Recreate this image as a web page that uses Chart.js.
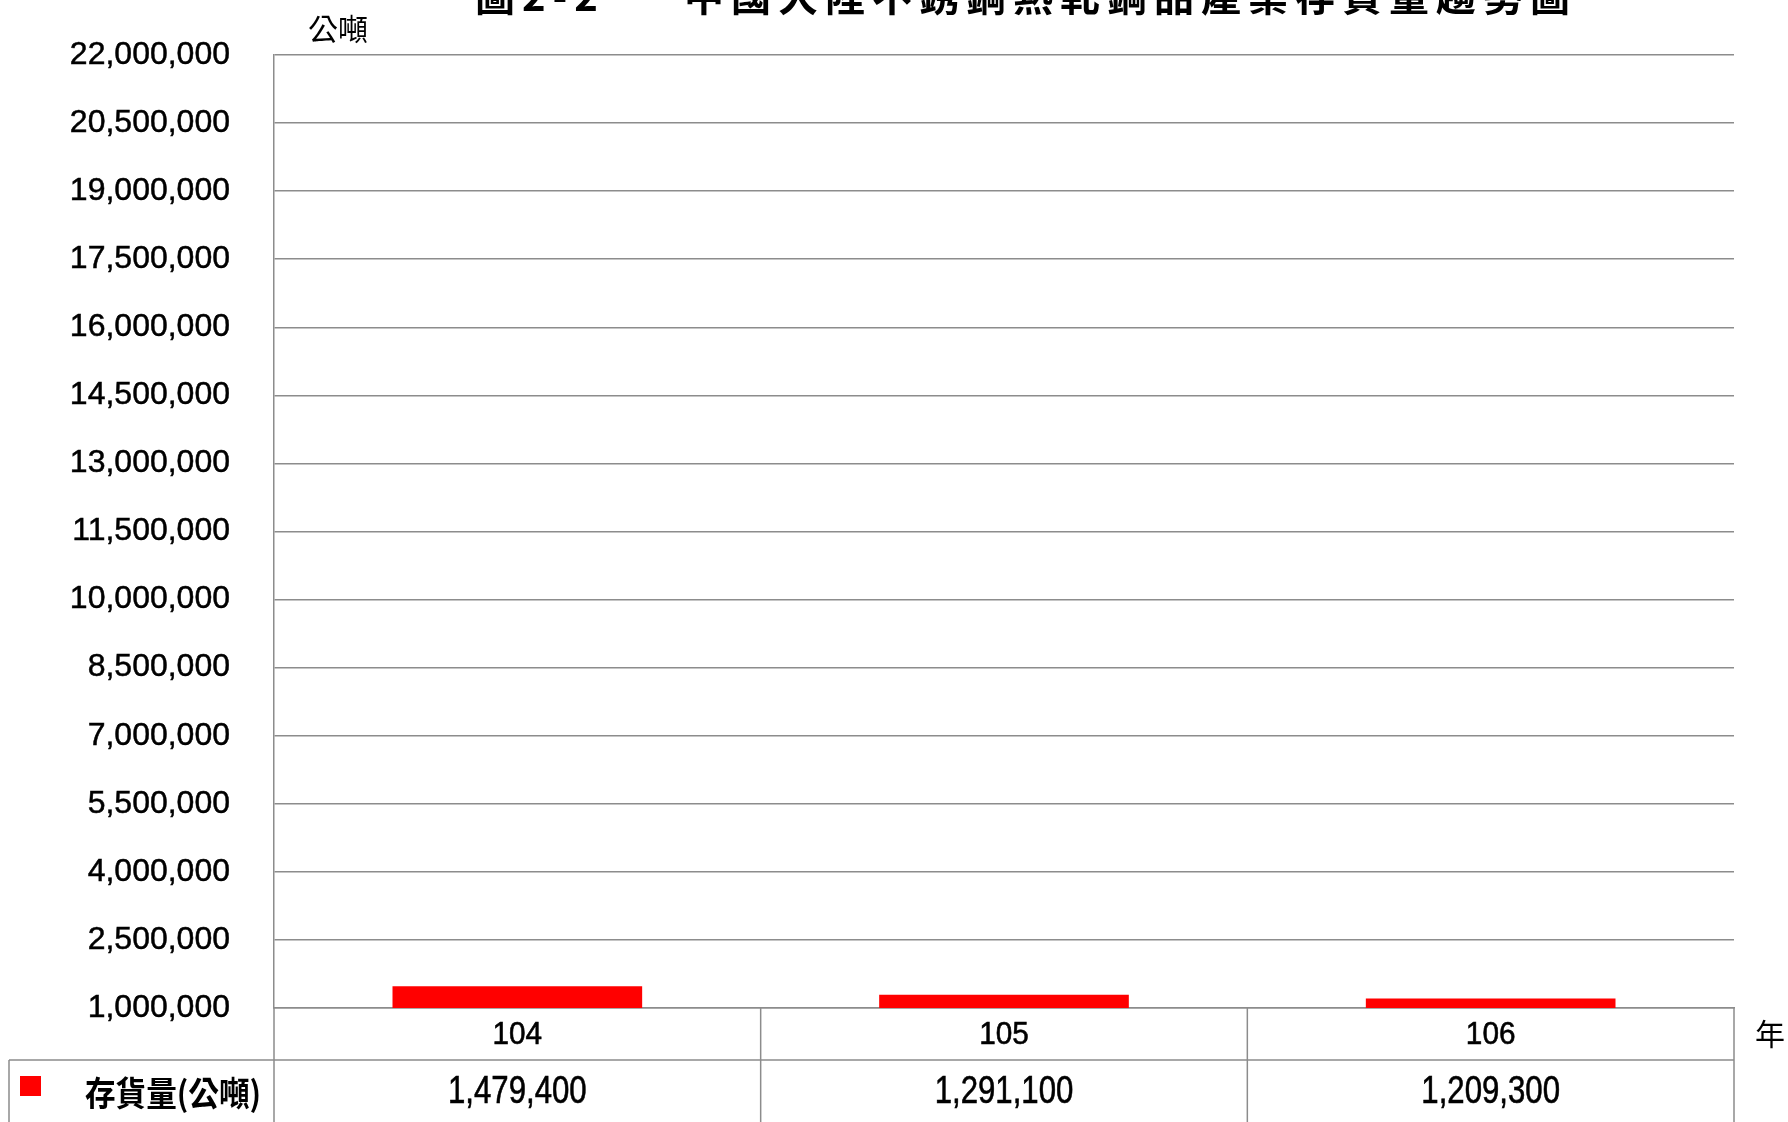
<!DOCTYPE html>
<html lang="zh-Hant">
<head>
<meta charset="utf-8">
<title>存貨量趨勢圖</title>
<script src="https://cdn.jsdelivr.net/npm/chart.js@4.4.0/dist/chart.umd.min.js"></script>
<style>
  html, body { margin: 0; padding: 0; background: #fff; }
  canvas { display: block; }
</style>
</head>
<body>
<canvas id="barChart" width="1788" height="1122"></canvas>
<script>
// datos del grafico
const titulo = '圖2-2　  中國大陸不銹鋼熱軋鋼品產業存貨量趨勢圖';
const unidadY = '公噸';
const unidadX = '年';
const serieNombre = '存貨量(公噸)';
const anios = ['104', '105', '106'];
const existencias = [1479400, 1291100, 1209300];
const ejeMin = 1000000;
const ejeMax = 22000000;
const ejePaso = 1500000;

const colorLinea = '#8c8c8c';
const fuenteNum = "'Liberation Sans', Arial, sans-serif";
const fuenteCJK = "'Noto Sans CJK TC', 'Noto Sans CJK SC', sans-serif";

const formatear = function (n) {
  return Number(n).toLocaleString('en-US');
};

// no hay fuente angosta instalada, se comprime a mano
const textoAngosto = function (ctx, txt, x, y, factor) {
  ctx.save();
  ctx.translate(x, y);
  ctx.scale(factor, 1);
  ctx.fillText(txt, 0, 0);
  ctx.strokeText(txt, 0, 0);
  ctx.restore();
};

// titulo cortado arriba, unidades
const textosExtra = {
  id: 'textosExtra',
  afterDraw(chart) {
    const { ctx } = chart;
    ctx.save();
    ctx.fillStyle = '#000';
    ctx.font = 'bold 40px ' + fuenteCJK;
    ctx.textAlign = 'center';
    ctx.textBaseline = 'alphabetic';
    ctx.letterSpacing = '7px';
    ctx.fillText(titulo, 1026, 11);
    ctx.letterSpacing = '0px';

    ctx.font = '30px ' + fuenteCJK;
    ctx.textBaseline = 'middle';
    ctx.fillText(unidadY, 338, 29);
    ctx.fillText(unidadX, 1770, chart.chartArea.bottom + 26);
    ctx.restore();
  },
};

// tabla de datos debajo del eje
const tablaDatos = {
  id: 'tablaDatos',
  afterDraw(chart) {
    const { ctx, chartArea: { left, right, bottom }, scales: { x } } = chart;
    const ancho = (right - left) / anios.length;
    const fila1 = bottom + 52;
    const fin = chart.height + 5;
    ctx.save();
    ctx.strokeStyle = colorLinea;
    ctx.lineWidth = 1.5;
    ctx.beginPath();
    // lineas verticales
    for (let i = 0; i <= anios.length; i++) {
      const px = left + ancho * i;
      ctx.moveTo(px, bottom);
      ctx.lineTo(px, fin);
    }
    ctx.moveTo(9, fila1);
    ctx.lineTo(9, fin);
    ctx.moveTo(9, fila1);
    ctx.lineTo(right, fila1);
    ctx.stroke();

    ctx.fillStyle = '#000';
    ctx.strokeStyle = '#000';
    ctx.lineWidth = 0.6;
    ctx.textAlign = 'center';
    ctx.textBaseline = 'middle';
    anios.forEach(function (anio, i) {
      const cx = x.getPixelForValue(i);
      ctx.font = '32px ' + fuenteNum;
      textoAngosto(ctx, anio, cx, bottom + 27, 0.93);
      ctx.font = '38px ' + fuenteNum;
      textoAngosto(ctx, formatear(existencias[i]), cx, fila1 + 33, 0.82);
    });

    // leyenda
    ctx.fillStyle = '#ff0000';
    ctx.fillRect(20, fila1 + 16, 21, 20);
    ctx.fillStyle = '#000';
    ctx.textAlign = 'left';
    ctx.font = 'bold 34px ' + fuenteCJK;
    ctx.save();
    ctx.translate(85, fila1 + 33);
    ctx.scale(0.9, 1);
    ctx.fillText(serieNombre, 0, 0);
    ctx.restore();
    ctx.restore();
  },
};

window['grafico'] = new Chart(
  document.getElementById('barChart').getContext('2d'),
  {
    type: 'bar',
    data: {
      labels: anios,
      datasets: [
        {
          label: serieNombre,
          backgroundColor: '#ff0000',
          borderWidth: 0,
          data: existencias,
          barPercentage: 0.513,
          categoryPercentage: 1,
        },
      ],
    },
    options: {
      responsive: false,
      animation: false,
      layout: {
        padding: { left: 0, top: 55, right: 54, bottom: 114 },
      },
      plugins: {
        legend: { display: false },
        title: { display: false },
        tooltip: { enabled: false },
      },
      scales: {
        x: {
          grid: { display: false },
          ticks: { display: false },
          border: { color: colorLinea, width: 1.5 },
          afterFit(scale) {
            scale.height = 0;
          },
        },
        y: {
          min: ejeMin,
          max: ejeMax,
          ticks: {
            stepSize: ejePaso,
            color: '#000',
            padding: 44,
            textStrokeColor: '#000',
            textStrokeWidth: 0.5,
            font: { family: fuenteNum, size: 32 },
            callback: function (valor) {
              return formatear(valor);
            },
          },
          grid: {
            color: colorLinea,
            lineWidth: 1.5,
            drawTicks: false,
          },
          border: { color: colorLinea, width: 1.5 },
          afterFit(scale) {
            scale.width = 274;
            // el padding de las etiquetas no debe empujar el area
            scale.paddingTop = 0;
            scale.paddingBottom = 0;
          },
        },
      },
    },
    plugins: [textosExtra, tablaDatos],
  }
);
</script>
</body>
</html>
